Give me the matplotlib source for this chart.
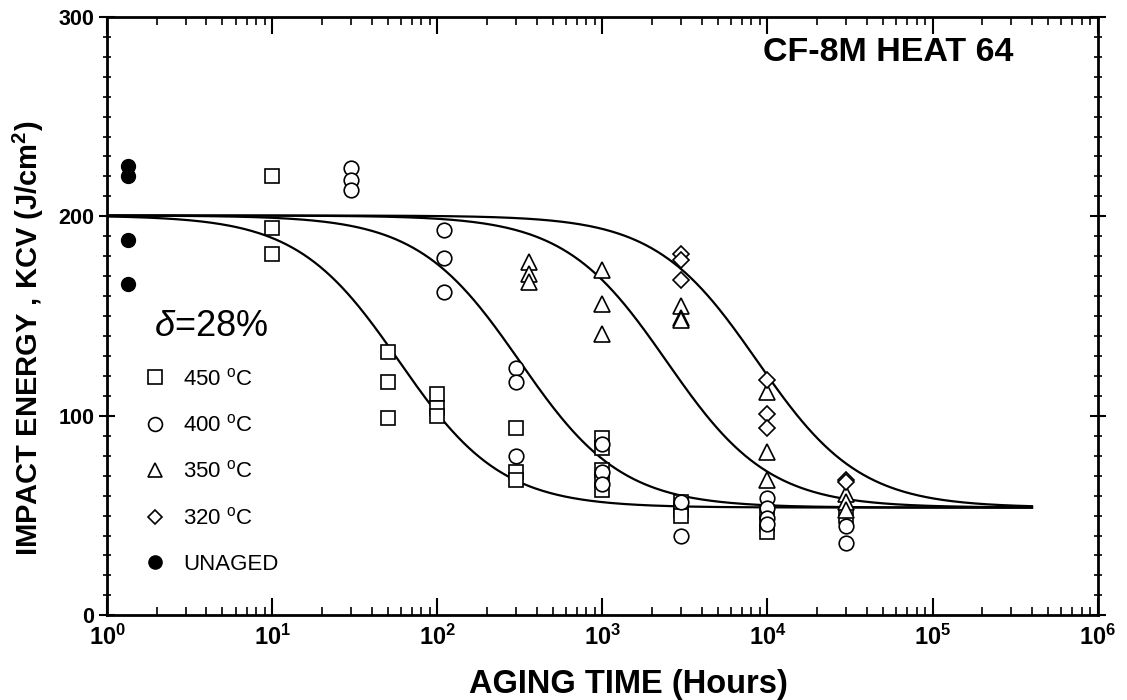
import numpy as np
import matplotlib.pyplot as plt
from matplotlib.ticker import FuncFormatter, MultipleLocator, FixedLocator, NullFormatter

plt.rcParams['font.family'] = ['Liberation Sans', 'DejaVu Sans']
plt.rcParams['mathtext.fontset'] = 'custom'
plt.rcParams['mathtext.rm'] = 'Liberation Sans'
plt.rcParams['mathtext.it'] = 'Liberation Sans:italic'
plt.rcParams['mathtext.bf'] = 'Liberation Sans:bold'

# measured points (aging time in hours, KCV in J/cm2)
t_unaged = [1.33, 1.33, 1.33, 1.33]
k_unaged = [225, 220, 188, 166]

t_450 = [10, 10, 10, 50, 50, 50, 100, 100, 100, 300, 300, 300,
         1000, 1000, 1000, 1000, 1000, 3000, 3000, 3000,
         10000, 10000, 10000, 30000]
k_450 = [220, 194, 181, 132, 117, 99, 111, 104, 100, 94, 72, 68,
         89, 84, 73, 68, 63, 57, 53, 50,
         52, 46, 42, 50]

t_400 = [30, 30, 30, 110, 110, 110, 300, 300, 300,
         1000, 1000, 1000, 3000, 3000,
         10000, 10000, 10000, 10000, 30000, 30000]
k_400 = [224, 218, 213, 193, 179, 162, 124, 117, 80,
         86, 72, 66, 57, 40,
         59, 54, 49, 46, 45, 36]

t_350 = [360, 360, 360, 1000, 1000, 1000, 3000, 3000, 3000,
         10000, 10000, 10000, 30000, 30000, 30000]
k_350 = [177, 171, 167, 173, 156, 141, 155, 149, 148,
         112, 82, 68, 61, 57, 53]

t_320 = [3000, 3000, 3000, 10000, 10000, 10000, 30000, 30000]
k_320 = [181, 178, 168, 118, 101, 94, 68, 67]

# fitted curves: K = Ksat + beta*(1 - tanh((log t - theta)/alpha))
k_sat = 54.0
beta = 73.2
alpha = 0.62
theta = [1.77, 2.50, 3.39, 3.94]
t_end = 4.0e5

decades = [0, 1, 2, 3, 4, 5, 6]

fig = plt.figure(figsize=(11.27, 7.0), dpi=100)
ax = fig.add_axes([0.095, 0.121, 0.879, 0.855])

tt = np.logspace(0, np.log10(t_end), 500)
for th in theta:
    kk = k_sat + beta * (1 - np.tanh((np.log10(tt) - th) / alpha))
    ax.plot(tt, kk, color='black', lw=1.6, zorder=2)

mk = dict(linestyle='none', mfc='white', mec='black', mew=1.2, zorder=3)
ax.plot(t_450, k_450, marker='s', ms=10, label='450 $^{\\mathrm{o}}$C', **mk)
ax.plot(t_400, k_400, marker='o', ms=10.5, label='400 $^{\\mathrm{o}}$C', **mk)
ax.plot(t_350, k_350, marker='^', ms=11, label='350 $^{\\mathrm{o}}$C', **mk)
ax.plot(t_320, k_320, marker='D', ms=8, label='320 $^{\\mathrm{o}}$C', **mk)
ax.plot(t_unaged, k_unaged, marker='o', ms=10, linestyle='none', color='black',
        label='UNAGED', zorder=3)

ax.set_xscale('log')
ax.set_xlim(1, 1e6)
ax.set_ylim(0, 300)

major = [10.0 ** d for d in decades]
minor = [m * 10.0 ** d for d in decades[:-1] for m in range(2, 10)]
ax.xaxis.set_major_locator(FixedLocator(major))
ax.xaxis.set_minor_locator(FixedLocator(minor))
ax.xaxis.set_minor_formatter(NullFormatter())
ax.xaxis.set_major_formatter(FuncFormatter(
    lambda v, _: r'$\mathbf{10^{%d}}$' % round(np.log10(v))))
ax.yaxis.set_major_locator(MultipleLocator(100))
ax.yaxis.set_minor_locator(MultipleLocator(10))

ax.tick_params(axis='x', which='both', direction='in', top=True, bottom=True,
               labelsize=17, pad=7)
ax.tick_params(axis='x', which='major', length=12, width=1.5)
ax.tick_params(axis='x', which='minor', length=6, width=1.2)
ax.tick_params(axis='y', which='both', direction='inout', left=True, right=True,
               labelsize=15.5, pad=3)
ax.tick_params(axis='y', which='major', length=12, width=1.5)
ax.tick_params(axis='y', which='minor', length=6, width=1.2)
for lab in ax.get_yticklabels():
    lab.set_fontweight('bold')

for sp in ax.spines.values():
    sp.set_linewidth(2)

ax.set_xlabel('AGING TIME (Hours)', fontsize=23.5, fontweight='bold')
ax.xaxis.set_label_coords(0.526, -0.09)
ax.set_ylabel(r'IMPACT ENERGY , KCV (J/cm$^\mathbf{2}$)', fontsize=21,
              fontweight='bold')
ax.yaxis.set_label_coords(-0.062, 0.463)

ax.text(0.915, 0.94, 'CF-8M HEAT 64', transform=ax.transAxes, ha='right',
        va='center', fontsize=24.5, fontweight='bold')

leg = ax.legend(loc='upper left', bbox_to_anchor=(0.016, 0.546), frameon=False,
                fontsize=16, labelspacing=1.1, handletextpad=0.7,
                handlelength=1.1, markerscale=0.95,
                title=r'$\delta$=28%', title_fontsize=26, alignment='center')

fig.savefig('out.png', dpi=100)
